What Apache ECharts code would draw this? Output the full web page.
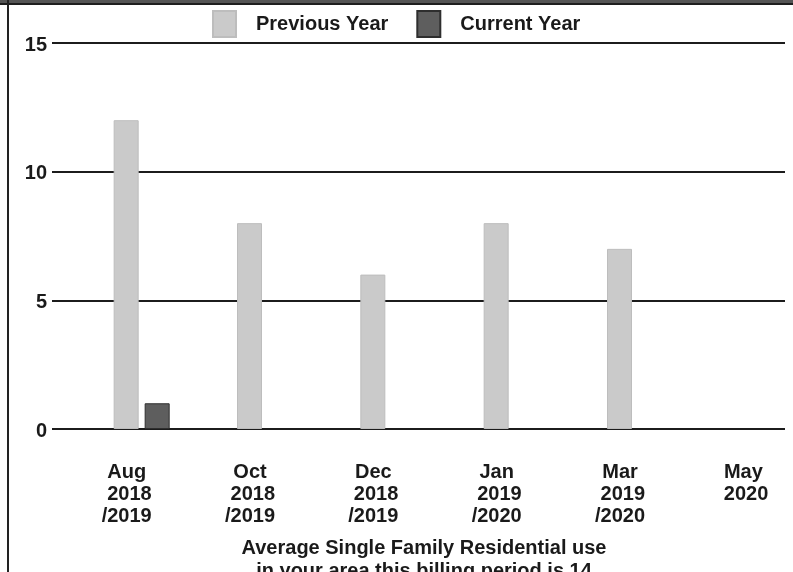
<!DOCTYPE html>
<html>
<head>
<meta charset="utf-8">
<script src="https://cdn.jsdelivr.net/npm/echarts@6/dist/echarts.min.js"></script>
<style>
html,body{margin:0;padding:0;background:#fff;}
#chart{width:793px;height:572px;}
</style>
</head>
<body>
<div id="chart"></div>
<script>
var categories = ['Aug\n 2018\n/2019', 'Oct\n 2018\n/2019', 'Dec\n 2018\n/2019', 'Jan\n 2019\n/2020', 'Mar\n 2019\n/2020', 'May\n 2020'];
var previousYear = [12, 8, 6, 8, 7, null];
var currentYear = [1, null, null, null, null, null];
var seriesNames = ['Previous Year', 'Current Year'];
var footerLines = ['Average Single Family Residential use', 'in your area this billing period is 14'];

var FONT = '"Liberation Sans", Arial, sans-serif';
var chart = echarts.init(document.getElementById('chart'));
chart.setOption({
  animation: false,
  backgroundColor: '#fff',
  textStyle: {fontFamily: FONT},
  legend: {
    top: 5, left: 207,
    icon: 'rect',
    itemWidth: 23, itemHeight: 26, itemGap: 28,
    textStyle: {fontFamily: FONT, fontWeight: 'bold', fontSize: 20, color: '#1a1a1a', padding: [0, 0, 0, 15]},
    data: seriesNames
  },
  title: {
    text: footerLines.join('\n'),
    left: 419, top: 532,
    textAlign: 'center',
    textStyle: {fontFamily: FONT, fontWeight: 'bold', fontSize: 20, color: '#1a1a1a', lineHeight: 23}
  },
  grid: [
    {left: 52, width: 733, top: 43, height: 386, outerBoundsMode: 'none'},
    {left: 80, width: 740, top: 43, height: 386, outerBoundsMode: 'none'}
  ],
  xAxis: [
    {gridIndex: 0, type: 'value', min: 0, max: 1, show: false},
    {gridIndex: 1, type: 'category', data: categories,
     axisLine: {show: false}, axisTick: {show: false},
     axisLabel: {interval: 0, margin: 32, fontFamily: FONT, fontWeight: 'bold', fontSize: 20, lineHeight: 22, color: '#1a1a1a', padding: [0, 30, 0, 0]}}
  ],
  yAxis: [
    {gridIndex: 0, type: 'value', min: 0, max: 15, interval: 5,
     axisLine: {show: false}, axisTick: {show: false},
     splitLine: {lineStyle: {color: '#1c1c1c', width: 2}},
     axisLabel: {margin: 5, fontFamily: FONT, fontWeight: 'bold', fontSize: 20, color: '#1a1a1a', verticalAlign: 'top', padding: [-8, 0, 0, 0]}},
    {gridIndex: 1, type: 'value', min: 0, max: 15, interval: 5, show: false, splitLine: {show: false}}
  ],
  series: [
    {name: seriesNames[0], type: 'bar', xAxisIndex: 1, yAxisIndex: 1, data: previousYear,
     barWidth: 25, barGap: '24%', z: 5,
     itemStyle: {color: '#cacaca', borderColor: '#bdbdbd', borderWidth: 1}},
    {name: seriesNames[1], type: 'bar', xAxisIndex: 1, yAxisIndex: 1, data: currentYear,
     barWidth: 25, z: 5,
     itemStyle: {color: '#5e5e5e', borderColor: '#2e2e2e', borderWidth: 1}}
  ],
  graphic: [
    {type: 'rect', shape: {x: 0, y: 0, width: 793, height: 4}, style: {fill: '#555'}, z: 10},
    {type: 'rect', shape: {x: 0, y: 3, width: 793, height: 2}, style: {fill: '#1e1e1e'}, z: 10},
    {type: 'rect', shape: {x: 7, y: 0, width: 2, height: 572}, style: {fill: '#222'}, z: 10}
  ]
});
</script>
</body>
</html>
